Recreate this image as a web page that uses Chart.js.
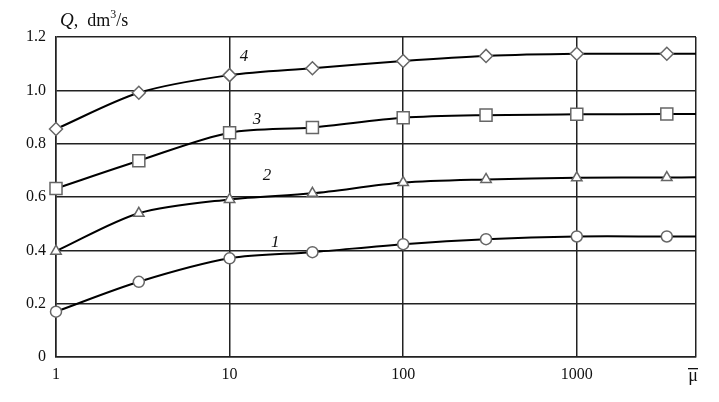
<!DOCTYPE html>
<html>
<head>
<meta charset="utf-8">
<script src="https://cdn.jsdelivr.net/npm/chart.js@4/dist/chart.umd.min.js"></script>
<style>
  html, body { margin: 0; padding: 0; background: #fff; }
  #wrap { width: 719px; height: 402px; position: relative; }
</style>
</head>
<body>
<div id="wrap"><canvas id="qChart" width="719" height="402"></canvas></div>
<script>
// values
const muValues = [1, 3, 10, 30, 100, 300, 1000, 3300];
const muEnd = 4860; // right end of the axis, curves run up to it
const q1 = [0.17, 0.282, 0.37, 0.393, 0.423, 0.442, 0.452, 0.452];
const q2 = [0.397, 0.539, 0.591, 0.614, 0.654, 0.666, 0.672, 0.673];
const q3 = [0.632, 0.736, 0.841, 0.861, 0.897, 0.907, 0.91, 0.911];
const q4 = [0.855, 0.991, 1.057, 1.083, 1.11, 1.129, 1.137, 1.137];
const qEnd = [0.452, 0.674, 0.911, 1.137];
const curveNames = ['1', '2', '3', '4'];
const nameMu = [18.3, 16.4, 14.4, 12.1];
const nameQ = [0.431, 0.682, 0.889, 1.125];
const xTicks = [1, 10, 100, 1000];

const serif = '"Liberation Serif", "DejaVu Serif", serif';
const markers = [
    { style: 'circle', r: 5.5 },
    { style: 'triangle', r: 6 },
    { style: 'rect', r: 8.5 },
    { style: 'rectRot', r: 6.5 }
];

const makeSet = (vals, i) => {
    const pts = muValues.map((m, k) => ({ x: m, y: vals[k] }));
    pts.push({ x: muEnd, y: qEnd[i] }); // end of the drawn curve, no marker
    return {
        label: curveNames[i],
        data: pts,
        borderColor: '#000',
        borderWidth: 2,
        tension: 0.3,
        pointStyle: markers[i].style,
        pointRadius: (ctx) => ctx.dataIndex < muValues.length ? markers[i].r : 0,
        pointBackgroundColor: '#fff',
        pointBorderColor: '#666',
        pointBorderWidth: 1.5,
        clip: false
    };
};

// text that is not part of the axes: curve numbers, axis titles
const textPlugin = {
    id: 'textPlugin',
    afterDatasetsDraw(chart) {
        const { ctx, scales } = chart;
        ctx.save();
        ctx.fillStyle = '#111';
        ctx.textAlign = 'center';
        ctx.textBaseline = 'middle';
        ctx.font = 'italic 17px ' + serif;
        curveNames.forEach((n, i) => {
            ctx.fillText(n, scales.x.getPixelForValue(nameMu[i]), scales.y.getPixelForValue(nameQ[i]));
        });

        // y title
        ctx.textAlign = 'left';
        ctx.textBaseline = 'alphabetic';
        ctx.font = 'italic 19px ' + serif;
        ctx.fillText('Q', 60, 26);
        const qw = ctx.measureText('Q').width;
        ctx.font = '18px ' + serif;
        ctx.fillText(',  dm', 60 + qw, 26);
        const w2 = ctx.measureText(',  dm').width;
        ctx.font = '12px ' + serif;
        ctx.fillText('3', 60 + qw + w2, 18);
        const w3 = ctx.measureText('3').width;
        ctx.font = '18px ' + serif;
        ctx.fillText('/s', 60 + qw + w2 + w3, 26);

        // x title: mu with a bar over it
        ctx.textAlign = 'center';
        ctx.textBaseline = 'middle';
        ctx.font = '18px ' + serif;
        ctx.fillText('\u03BC', 693, 376);
        ctx.fillRect(688, 368, 10, 1.3);
        ctx.restore();
    }
};

new Chart(document.getElementById('qChart'), {
    type: 'line',
    data: {
        datasets: [makeSet(q1, 0), makeSet(q2, 1), makeSet(q3, 2), makeSet(q4, 3)]
    },
    options: {
        responsive: false,
        animation: false,
        layout: { padding: { top: 37, right: 23, left: 0, bottom: 0 } },
        plugins: {
            legend: { display: false },
            tooltip: { enabled: false }
        },
        scales: {
            x: {
                type: 'logarithmic',
                min: 1,
                max: muEnd,
                afterBuildTicks: (scale) => {
                    scale.ticks = xTicks.concat([muEnd]).map(v => ({ value: v }));
                },
                afterFit: (scale) => { scale.height = 45; },
                grid: { color: '#222', lineWidth: 1.5, drawTicks: false },
                border: { color: '#222', width: 1.5 },
                ticks: {
                    padding: 8,
                    autoSkip: false,
                    maxRotation: 0,
                    color: '#111',
                    font: { family: serif, size: 16 },
                    callback: (v) => xTicks.includes(v) ? String(v) : ''
                }
            },
            y: {
                min: 0,
                max: 1.2,
                afterFit: (scale) => { scale.width = 56; },
                grid: { color: '#222', lineWidth: 1.5, drawTicks: false },
                border: { color: '#222', width: 1.5 },
                ticks: {
                    stepSize: 0.2,
                    padding: 10,
                    color: '#111',
                    font: { family: serif, size: 16 },
                    callback: (v) => v === 0 ? '0' : v.toFixed(1)
                }
            }
        }
    },
    plugins: [textPlugin]
});
</script>
</body>
</html>
